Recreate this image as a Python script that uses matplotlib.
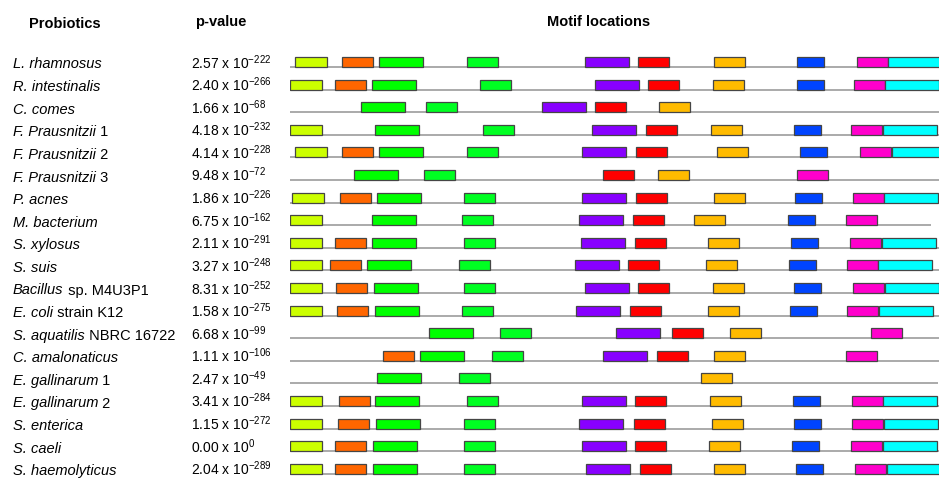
import numpy as np
import matplotlib
matplotlib.use("Agg")
import matplotlib.pyplot as plt
from matplotlib.patches import Rectangle

plt.rcParams['font.family'] = ['Liberation Sans', 'DejaVu Sans']
plt.rcParams['mathtext.fontset'] = 'custom'
plt.rcParams['mathtext.rm'] = 'Liberation Sans'
plt.rcParams['mathtext.it'] = 'Liberation Sans:italic'

# strain labels: (italic part, plain part)
strains = [
    ("L. rhamnosus", ""), ("R. intestinalis", ""), ("C. comes", ""),
    ("F. Prausnitzii", " 1"), ("F. Prausnitzii", " 2"), ("F. Prausnitzii", " 3"),
    ("P. acnes", ""), ("M. bacterium", ""), ("S. xylosus", ""), ("S. suis", ""),
    ("Bacillus", " sp. M4U3P1"), ("E. coli", " strain K12"),
    ("S. aquatilis", " NBRC 16722"), ("C. amalonaticus", ""),
    ("E. gallinarum", " 1"), ("E. gallinarum", " 2"), ("S. enterica", ""),
    ("S. caeli", ""), ("S. haemolyticus", ""),
]
p_mant = ["2.57", "2.40", "1.66", "4.18", "4.14", "9.48", "1.86", "6.75", "2.11",
          "3.27", "8.31", "1.58", "6.68", "1.11", "2.47", "3.41", "1.15", "0.00", "2.04"]
p_exp = ["-222", "-266", "-68", "-232", "-228", "-72", "-226", "-162", "-291",
         "-248", "-252", "-275", "-99", "-106", "-49", "-284", "-272", "0", "-289"]

seq_len = [650, 650, 650, 650, 650, 650, 650, 641, 650, 650,
           650, 650, 650, 650, 648, 650, 650, 650, 650]

# motif start sites per strain (None = motif not found)
N = None
site_yellow = [5, 0, N, 0, 5, N, 2, 0, 0, 0, 0, 0, N, N, N, 0, 0, 0, 0]
site_orange = [52, 45, N, N, 52, N, 50, N, 45, 40, 46, 47, N, 93, N, 49, 48, 45, 45]
site_green1 = [89, 82, 71, 85, 89, 64, 87, 82, 82, 77, 84, 85, 139, 130, 87, 85, 86, 83, 83]
site_green2 = [177, 190, 136, 193, 177, 134, 174, 172, 174, 169, 174, 172, 210, 202, 169, 177, 174, 174, 174]
site_purple = [295, 305, 252, 302, 292, N, 292, 289, 291, 285, 295, 286, 326, 313, N, 292, 289, 292, 296]
site_red = [348, 358, 305, 356, 346, 313, 346, 343, 345, 338, 348, 340, 382, 367, N, 345, 344, 345, 350]
site_gold = [424, 423, 369, 421, 427, 368, 424, 404, 418, 416, 423, 418, 440, 424, 411, 420, 422, 419, 424]
site_blue = [507, 507, N, 504, 510, N, 505, 498, 501, 499, 504, 500, N, N, N, 503, 504, 502, 506]
site_magenta = [567, 564, N, 561, 570, 507, 563, 556, 560, 557, 563, 557, 581, 556, N, 562, 562, 561, 565]
site_cyan = [598, 595, N, 593, 602, N, 594, N, 592, 588, 595, 589, N, N, N, 593, 594, 593, 597]

motifs = [
    (site_yellow, 32, "#CCFF00"),
    (site_orange, 31, "#FF6600"),
    (site_green1, 44, "#00FF00"),
    (site_green2, 31, "#00FF22"),
    (site_purple, 44, "#8800FF"),
    (site_red, 31, "#FF0000"),
    (site_gold, 31, "#FFBB00"),
    (site_blue, 27, "#0044FF"),
    (site_magenta, 31, "#FF00CC"),
    (site_cyan, 54, "#00FFFF"),
]

W, H = 939, 478
fig = plt.figure(figsize=(W / 100, H / 100), dpi=100)
fig.patch.set_facecolor("white")

row0, step = 67, 22.6
ax = fig.add_axes([290 / W, 0, (W - 290) / W, 1])
ax.set_xlim(0, W - 290)
ax.set_ylim((H - row0) / step, -row0 / step)
ax.axis("off")

box_h = 10 / step
for i, L in enumerate(seq_len):
    ax.plot([0, L], [i, i], color="#AAAAAA", lw=1.4, solid_capstyle="butt", zorder=1)
    for sites, width, color in motifs:
        s = sites[i]
        if s is None:
            continue
        ax.add_patch(Rectangle((s, i - box_h), width, box_h, facecolor=color,
                               edgecolor="#454545", lw=0.9, zorder=2))

# headers
fig.text(29 / W, 1 - 24 / H, "Probiotics", fontsize=10.5, fontweight="bold", va="center")
fig.text(195 / W, 1 - 22 / H, "p-value", fontsize=10.5, fontweight="bold", va="center")
fig.text(547 / W, 1 - 22 / H, "Motif locations", fontsize=10.5, fontweight="bold", va="center")

# labels and p-values, sitting on the row baseline
for i, (ital, plain) in enumerate(strains):
    y = 1 - (row0 + step * i + 1.5) / H
    t = fig.text(13 / W, y, ital, fontsize=10.5, fontstyle="italic", va="baseline")
    if plain:
        ax.annotate(plain, xy=(1, y), xycoords=(t, fig.transFigure), fontsize=10.5,
                    va="baseline", ha="left", annotation_clip=False)
    fig.text(191 / W, y, p_mant[i] + r" x 10$^{" + p_exp[i] + "}$",
             fontsize=10, va="baseline")

fig.savefig("out.png", dpi=100)
